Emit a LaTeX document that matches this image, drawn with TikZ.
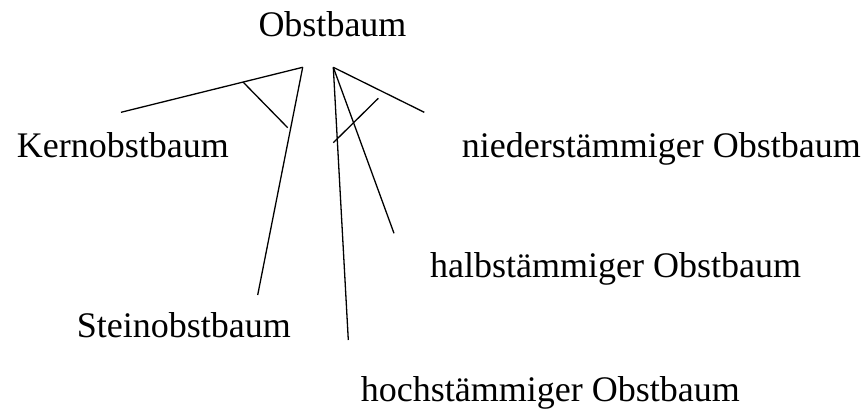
\documentclass[tikz,border=0pt]{standalone}
\usepackage{fontspec}
\setmainfont{Liberation Serif}
\usepackage{tikz}

\begin{document}
\begin{tikzpicture}[x=1pt,y=-1pt,
  begriff/.style={anchor=base west, inner sep=0pt, font=\fontsize{36}{43}\selectfont},
  ast/.style={line width=1.3pt}]
\useasboundingbox (0,0) rectangle (868,409);
% Oberbegriff
\node[begriff] (obst) at (258.3,36.7) {Obstbaum};

% Unterbegriffe links (Fruchtart)
\node[begriff] (kern) at (16.7,157.7) {Kernobstbaum};
\node[begriff] (stein) at (76.7,337.7) {Steinobstbaum};

% Unterbegriffe rechts (Stammhöhe)
\node[begriff] (nieder) at (461.7,157.7) {niederstämmiger Obstbaum};
\node[begriff] (halb) at (430,277.7) {halbstämmiger Obstbaum};
\node[begriff] (hoch) at (360.7,401.7) {hochstämmiger Obstbaum};

% Ansatzpunkte und Enden der Äste
\coordinate (links) at (302.7,67.3);
\coordinate (rechts) at (333.3,67.3);
\coordinate (kern-ende) at (121,112.3);
\coordinate (stein-ende) at (257.7,295);
\coordinate (nieder-ende) at (424.3,112.3);
\coordinate (halb-ende) at (394,233.3);
\coordinate (hoch-ende) at (348.3,340);

% Äste links
\draw[ast] (links) -- (kern-ende);
\draw[ast] (links) -- (stein-ende);
\draw[ast] (243.3,82.3) -- (287.7,127.7);

% Äste rechts
\draw[ast] (rechts) -- (nieder-ende);
\draw[ast] (rechts) -- (halb-ende);
\draw[ast] (rechts) -- (hoch-ende);
\draw[ast] (378.3,98.3) -- (333.3,142.7);

\end{tikzpicture}
\end{document}
